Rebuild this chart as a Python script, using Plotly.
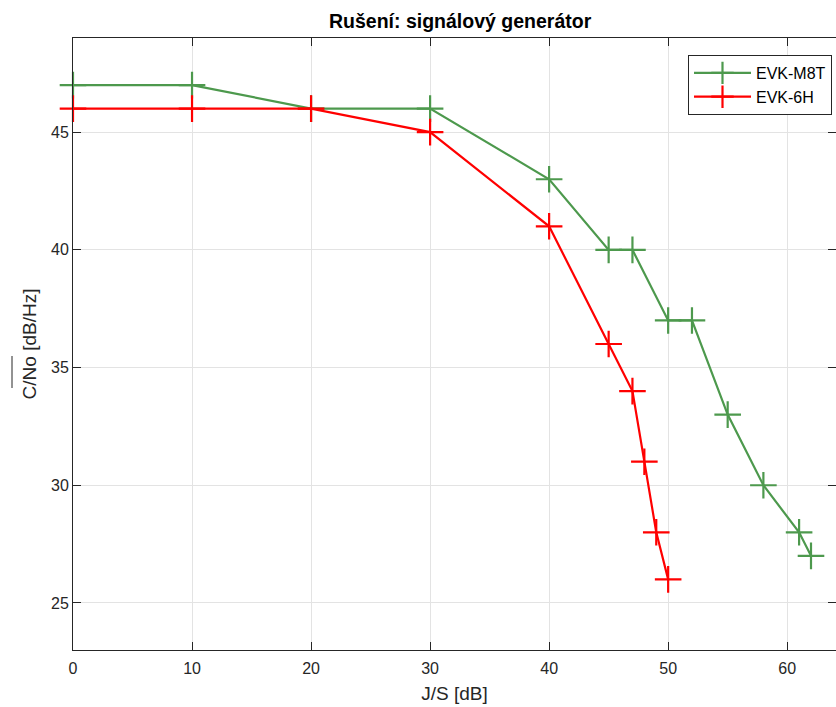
import plotly.graph_objects as go

m8t_x = [0, 10, 20, 30, 40, 45, 47, 50, 52, 55, 58, 61, 62]
m8t_y = [47, 47, 46, 46, 43, 40, 40, 37, 37, 33, 30, 28, 27]
h6_x = [0, 10, 20, 30, 40, 45, 47, 48, 49, 50]
h6_y = [46, 46, 46, 45, 41, 36, 34, 31, 28, 26]
x_ticks = [0, 10, 20, 30, 40, 50, 60]
y_ticks = [25, 30, 35, 40, 45]

W, H = 836, 707
L, R, T, B = 73, 0, 38, 57
FONT = "Liberation Sans, Arial"

fig = go.Figure()
fig.add_trace(go.Scatter(x=m8t_x, y=m8t_y, mode="lines+markers", name="EVK-M8T",
                         cliponaxis=False,
                         line=dict(color="rgb(77,153,77)", width=2.2),
                         marker=dict(symbol="cross-thin", size=19,
                                     line=dict(color="rgb(77,153,77)", width=2.2))))
fig.add_trace(go.Scatter(x=h6_x, y=h6_y, mode="lines+markers", name="EVK-6H",
                         cliponaxis=False,
                         line=dict(color="rgb(255,0,0)", width=2.2),
                         marker=dict(symbol="cross-thin", size=19,
                                     line=dict(color="rgb(255,0,0)", width=2.2))))

axis_common = dict(showline=True, linecolor="#262626", linewidth=1,
                   ticks="inside", ticklen=8, tickcolor="#262626",
                   showgrid=True, gridcolor="#e3e3e3", gridwidth=1,
                   zeroline=False, mirror="ticks",
                   tickfont=dict(family=FONT, size=16, color="#262626"))

fig.update_xaxes(range=[0, 64.1], tickvals=x_ticks, ticklabelstandoff=4,
                 title=dict(text="J/S [dB]", font=dict(family=FONT, size=19, color="#262626"),
                            standoff=10),
                 **axis_common)
fig.update_yaxes(range=[23, 49], tickvals=y_ticks,
                 title=dict(text="C/No [dB/Hz]", font=dict(family=FONT, size=19, color="#262626"),
                            standoff=9),
                 **axis_common)

pw = W - L - R
ph = H - T - B
# overline over C/No (drawn as in the reference)
fig.add_shape(type="line", xref="paper", yref="paper",
              x0=(12 - L) / pw, x1=(12 - L) / pw,
              y0=(H - B - 356) / ph, y1=(H - B - 388) / ph,
              line=dict(color="#262626", width=1))

fig.add_annotation(text="<b>Rušení: signálový generátor</b>", xref="paper", yref="paper",
                   x=(460 - L) / pw, y=1, yshift=4, xanchor="center", yanchor="bottom",
                   showarrow=False,
                   font=dict(family=FONT, size=19.5, color="black"))

fig.update_layout(width=W, height=H, margin=dict(l=L, r=R, t=T, b=B),
                  plot_bgcolor="white", paper_bgcolor="white",
                  showlegend=True,
                  legend=dict(x=(688 - L) / pw, y=(H - B - 55) / ph, xanchor="left", yanchor="top",
                              bgcolor="white", bordercolor="#262626", borderwidth=1,
                              font=dict(family=FONT, size=16, color="black"),
                              tracegroupgap=0, itemwidth=57))

fig.write_html("out.html")
